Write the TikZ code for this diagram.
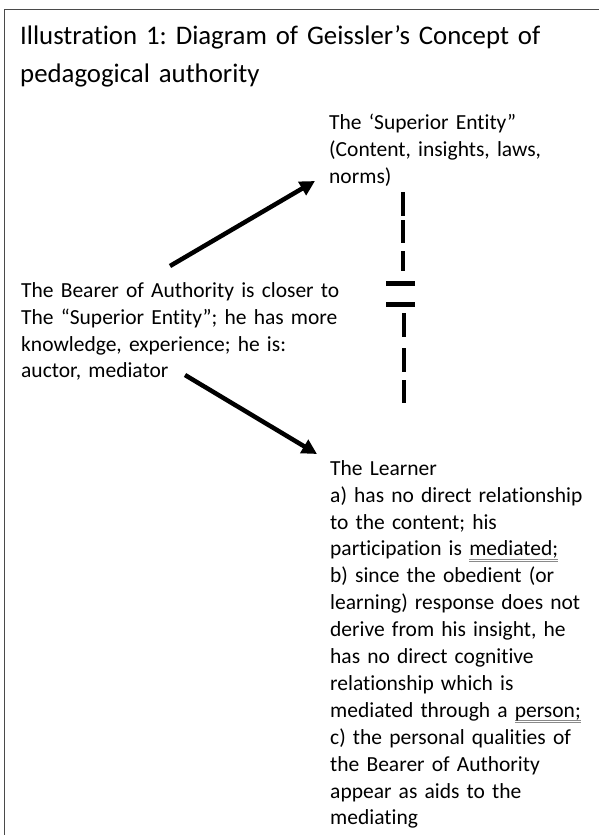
\documentclass[tikz,border=0pt]{standalone}
\usepackage{fontspec}
\setmainfont[Ligatures=NoCommon]{Carlito}
\usepackage{xcolor}
\usetikzlibrary{arrows.meta}
\definecolor{framegray}{HTML}{4A4A4A}
\definecolor{ulgray}{HTML}{8A8A8A}
\newsavebox\ulbox
\newcommand\dblul[1]{\leavevmode\sbox\ulbox{#1}\rlap{\textcolor{ulgray}{\rule[-3.6pt]{\wd\ulbox}{0.9pt}}}\rlap{\textcolor{ulgray}{\rule[-5.7pt]{\wd\ulbox}{0.9pt}}}\usebox\ulbox}
\newcommand\topstrut{\rule{0pt}{22pt}}
\tikzset{
  titletext/.style={anchor=north west, inner sep=0pt, text width=590pt, align=left,
    font={\fontsize{26.8}{38}\selectfont\frenchspacing}},
  bodytext/.style={anchor=north west, inner sep=0pt, text width=340pt, align=left,
    font={\fontsize{21.5}{26.9}\selectfont\frenchspacing}},
  bigarrow/.style={line width=4.5pt, -{Triangle[length=15pt,width=15pt]}},
  dashseg/.style={line width=4pt},
  barseg/.style={line width=5pt}
}
\begin{document}
\begin{tikzpicture}[x=1pt,y=-1pt]
\useasboundingbox (0,0) rectangle (599,835);
\fill[white] (0,0) rectangle (599,835);
% frame
\draw[framegray, line width=1.6pt] (4.5,835) -- (4.5,9.5) -- (599,9.5);
% title
\node[titletext] (title) at (20,44-22) {\topstrut Illustration 1: Diagram of Geissler’s Concept of\\pedagogical authority};
% superior entity
\node[bodytext] (sup) at (329,129-22) {\topstrut The ‘Superior Entity”\\(Content, insights, laws,\\norms)};
% bearer
\node[bodytext] (bear) at (21,297-22) {\topstrut The Bearer of Authority is closer to\\The “Superior Entity”; he has more\\knowledge, experience; he is:\\auctor, mediator};
% learner
\node[bodytext] (learn) at (330,475-22) {\topstrut The Learner\\a) has no direct relationship\\to the content; his\\participation is \dblul{mediated;}\\b) since the obedient (or\\learning) response does not\\derive from his insight, he\\has no direct cognitive\\relationship which is\\mediated through a \dblul{person;}\\c) the personal qualities of\\the Bearer of Authority\\appear as aids to the\\mediating};
% arrows
\coordinate (a1s) at (170,266);
\coordinate (a1e) at (315,181);
\coordinate (a2s) at (185,375);
\coordinate (a2e) at (317,454);
\draw[bigarrow] (a1s) -- (a1e);
\draw[bigarrow] (a2s) -- (a2e);
% dashed connector with bars
\draw[dashseg] (403,192) -- (403,216);
\draw[dashseg] (403,220) -- (403,243);
\draw[dashseg] (403,251) -- (403,271);
\draw[barseg] (386,283.5) -- (415,283.5);
\draw[barseg] (386,304.5) -- (415,304.5);
\draw[dashseg] (404,313) -- (404,337);
\draw[dashseg] (404,348) -- (404,372);
\draw[dashseg] (404,380) -- (404,403);
\end{tikzpicture}
\end{document}
